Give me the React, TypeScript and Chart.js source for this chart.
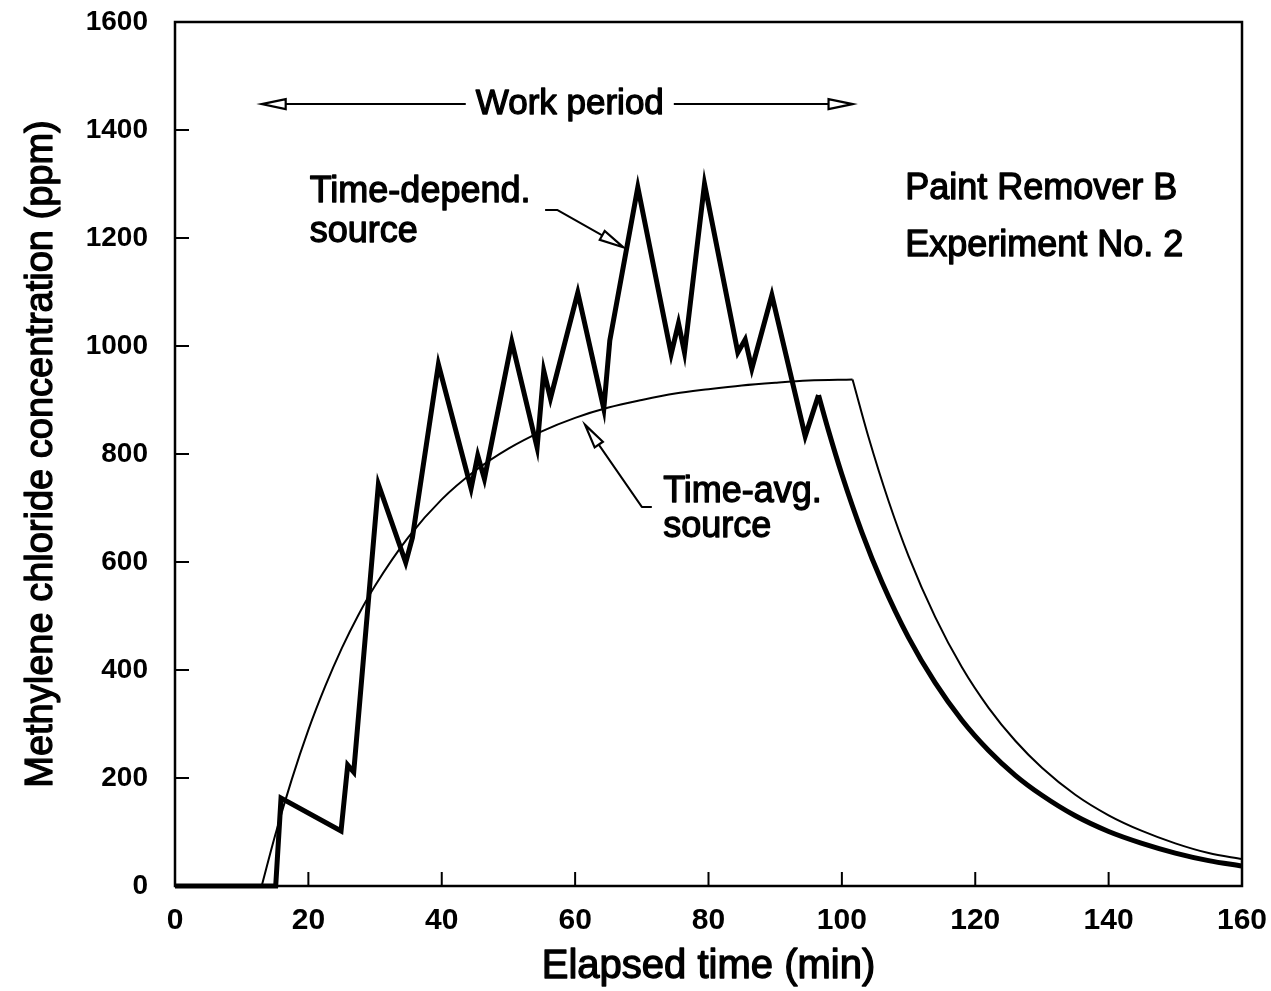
import React, { useEffect, useRef } from "react";
import { Chart, registerables } from "chart.js";

Chart.register(...registerables);

// ---------- data (minutes, ppm) ----------
const timeDependX = [0, 15.1, 15.9, 24.9, 25.9, 26.8, 30.5, 34.6, 35.6, 39.5, 44.4, 45.4, 46.4, 50.5, 54.3, 55.3, 56.3, 60.4, 64.3, 65.2, 69.4, 74.4, 75.5, 76.4, 79.4, 84.4, 85.5, 86.5, 89.5, 94.5, 96.5];
const timeDependY = [0, 0, 163, 102, 224, 211, 744, 599, 645, 966, 736, 797, 754, 1008, 812, 954, 903, 1099, 884, 1010, 1294, 985, 1042, 988, 1300, 988, 1012, 958, 1094, 833, 909];

const timeDependDecayX = [96.5, 98, 100, 103, 106, 110, 114, 118, 122, 126, 130, 135, 140, 145, 150, 155, 160];
const timeDependDecayY = [909, 843, 762, 655, 563, 460, 376, 307, 251, 205, 168, 130, 101, 79, 61, 47, 37];

const timeAvgFlatX = [0, 13];
const timeAvgFlatY = [0, 0];

const timeAvgRiseX = [13, 15, 17.5, 20, 22.5, 25, 27.5, 30, 35, 40, 45, 50, 55, 60, 65, 70, 75, 80, 85, 90, 95, 101.6];
const timeAvgRiseY = [0, 93, 197, 289, 369, 440, 502, 556, 646, 716, 769, 810, 842, 867, 886, 900, 912, 920, 927, 932, 936, 938];

const timeAvgDecayX = [101.6, 104, 107, 110, 114, 118, 122, 126, 130, 135, 140, 145, 150, 155, 160];
const timeAvgDecayY = [938, 831, 713, 611, 498, 405, 330, 269, 219, 169, 131, 102, 79, 61, 50];

const xTicks = [0, 20, 40, 60, 80, 100, 120, 140, 160];
const yTicks = [0, 200, 400, 600, 800, 1000, 1200, 1400, 1600];

const X_TITLE = "Elapsed time (min)";
const Y_TITLE = "Methylene chloride concentration (ppm)";

const FONT = "'Liberation Sans', Arial, Helvetica, sans-serif";

const pts = (xs: number[], ys: number[]) => xs.map((x, i) => ({ x, y: ys[i] }));

function drawText(ctx: CanvasRenderingContext2D, s: string, x: number, y: number, size: number, align: CanvasTextAlign = "left", baseline: CanvasTextBaseline = "alphabetic") {
  ctx.font = `${size}px ${FONT}`;
  ctx.textAlign = align;
  ctx.textBaseline = baseline;
  ctx.fillStyle = "#000";
  ctx.fillText(s, x, y);
  ctx.lineWidth = 1.3;
  ctx.lineJoin = "round";
  ctx.strokeStyle = "#000";
  ctx.strokeText(s, x, y);
}

function arrowHead(ctx: CanvasRenderingContext2D, tx: number, ty: number, fx: number, fy: number, len = 24, half = 5) {
  const dx = tx - fx, dy = ty - fy;
  const d = Math.hypot(dx, dy) || 1;
  const ux = dx / d, uy = dy / d;
  const bx = tx - ux * len, by = ty - uy * len;
  const nx = -uy, ny = ux;
  ctx.beginPath();
  ctx.moveTo(tx, ty);
  ctx.lineTo(bx + nx * half, by + ny * half);
  ctx.lineTo(bx - nx * half, by - ny * half);
  ctx.closePath();
  ctx.fillStyle = "#fff";
  ctx.fill();
  ctx.lineWidth = 2.2;
  ctx.lineJoin = "miter";
  ctx.strokeStyle = "#000";
  ctx.stroke();
}

function polyArrow(ctx: CanvasRenderingContext2D, p: { x: number; y: number }[]) {
  const n = p.length;
  const tip = p[n - 1], prev = p[n - 2];
  const dx = tip.x - prev.x, dy = tip.y - prev.y;
  const d = Math.hypot(dx, dy) || 1;
  const len = 24;
  const bx = tip.x - (dx / d) * len, by = tip.y - (dy / d) * len;
  ctx.beginPath();
  ctx.moveTo(p[0].x, p[0].y);
  for (let i = 1; i < n - 1; i++) ctx.lineTo(p[i].x, p[i].y);
  ctx.lineTo(bx, by);
  ctx.lineWidth = 2;
  ctx.strokeStyle = "#000";
  ctx.stroke();
  arrowHead(ctx, tip.x, tip.y, prev.x, prev.y, len, 5);
}

const framePlugin = {
  id: "frameAndNotes",
  afterDraw(chart: any) {
    const { ctx, chartArea: ca, scales } = chart;
    const px = (v: number) => scales.x.getPixelForValue(v);
    const py = (v: number) => scales.y.getPixelForValue(v);
    ctx.save();
    // frame
    ctx.strokeStyle = "#000";
    ctx.lineWidth = 2.5;
    ctx.strokeRect(ca.left, ca.top, ca.right - ca.left, ca.bottom - ca.top);
    // inward ticks
    ctx.lineWidth = 2;
    ctx.beginPath();
    xTicks.forEach((v) => {
      ctx.moveTo(px(v), ca.bottom);
      ctx.lineTo(px(v), ca.bottom - 14);
    });
    yTicks.forEach((v) => {
      ctx.moveTo(ca.left, py(v));
      ctx.lineTo(ca.left + 14, py(v));
    });
    ctx.stroke();

    // axis titles
    drawText(ctx, X_TITLE, (ca.left + ca.right) / 2, 967, 40, "center", "middle");
    ctx.save();
    ctx.translate(42, (ca.top + ca.bottom) / 2);
    ctx.rotate(-Math.PI / 2);
    drawText(ctx, Y_TITLE, 0, 0, 38, "center", "middle");
    ctx.restore();

    // Work period arrow
    const wy = py(1448);
    const wText = "Work period";
    ctx.font = `35px ${FONT}`;
    const tw = ctx.measureText(wText).width;
    const wcx = px(59.2);
    drawText(ctx, wText, wcx, wy, 35, "center", "middle");
    const lt = px(13), rt = px(101.6);
    ctx.beginPath();
    ctx.moveTo(wcx - tw / 2 - 10, wy);
    ctx.lineTo(lt + 24, wy);
    ctx.moveTo(wcx + tw / 2 + 10, wy);
    ctx.lineTo(rt - 24, wy);
    ctx.lineWidth = 2;
    ctx.strokeStyle = "#000";
    ctx.stroke();
    arrowHead(ctx, lt, wy, lt + 30, wy);
    arrowHead(ctx, rt, wy, rt - 30, wy);

    // Time-dependent source label
    drawText(ctx, "Time-depend.", px(20.2), py(1267), 36);
    drawText(ctx, "source", px(20.2), py(1193), 36);
    polyArrow(ctx, [
      { x: px(55.5), y: py(1252) },
      { x: px(57.3), y: py(1252) },
      { x: px(67.2), y: py(1183) },
    ]);

    // Time-avg source label
    drawText(ctx, "Time-avg.", px(73.2), py(711), 36);
    drawText(ctx, "source", px(73.2), py(647), 36);
    polyArrow(ctx, [
      { x: px(71.5), y: py(702) },
      { x: px(70.0), y: py(702) },
      { x: px(61.5), y: py(854) },
    ]);

    // Experiment label
    drawText(ctx, "Paint Remover B", px(109.5), py(1272), 36);
    drawText(ctx, "Experiment No. 2", px(109.5), py(1167), 36);

    ctx.restore();
  },
};

const zeroPad = (s: any) => {
  s.paddingTop = 0;
  s.paddingBottom = 0;
  s.paddingLeft = 0;
  s.paddingRight = 0;
};

export default function App() {
  const canvasRef = useRef<HTMLCanvasElement | null>(null);

  useEffect(() => {
    const canvas = canvasRef.current;
    if (!canvas) return;
    const thick = { borderColor: "#000", borderWidth: 5, pointRadius: 0, fill: false, clip: false as any, borderJoinStyle: "miter" as const };
    const thin = { borderColor: "#000", borderWidth: 2, pointRadius: 0, fill: false, clip: false as any };
    const chart = new Chart(canvas, {
      type: "line",
      data: {
        datasets: [
          { ...thin, label: "Time-avg. source (pre)", data: pts(timeAvgFlatX, timeAvgFlatY), tension: 0 },
          { ...thin, label: "Time-avg. source", data: pts(timeAvgRiseX, timeAvgRiseY), cubicInterpolationMode: "monotone" },
          { ...thin, label: "Time-avg. source (decay)", data: pts(timeAvgDecayX, timeAvgDecayY), cubicInterpolationMode: "monotone" },
          { ...thick, label: "Time-depend. source", data: pts(timeDependX, timeDependY), tension: 0 },
          { ...thick, label: "Time-depend. source (decay)", data: pts(timeDependDecayX, timeDependDecayY), cubicInterpolationMode: "monotone" },
        ],
      },
      options: {
        responsive: false,
        animation: false,
        events: [],
        layout: { padding: { left: 0, right: 29, top: 22, bottom: 0 } },
        plugins: { legend: { display: false }, tooltip: { enabled: false }, title: { display: false } },
        scales: {
          x: {
            type: "linear",
            min: 0,
            max: 160,
            afterFit: (s: any) => { s.height = 105; zeroPad(s); },
            afterBuildTicks: (s: any) => { s.ticks = xTicks.map((v) => ({ value: v })); },
            grid: { display: false, drawTicks: false },
            border: { display: false },
            ticks: { color: "#000", padding: 17, maxRotation: 0, callback: (v: any) => String(v), font: { family: FONT, size: 30, weight: "bold" } },
          },
          y: {
            type: "linear",
            min: 0,
            max: 1600,
            afterFit: (s: any) => { s.width = 175; zeroPad(s); },
            afterBuildTicks: (s: any) => { s.ticks = yTicks.map((v) => ({ value: v })); },
            grid: { display: false, drawTicks: false },
            border: { display: false },
            ticks: { color: "#000", padding: 27, callback: (v: any) => String(v), font: { family: FONT, size: 28, weight: "bold" } },
          },
        },
      },
      plugins: [framePlugin],
    });
    return () => chart.destroy();
  }, []);

  return (
    <div style={{ position: "fixed", left: 0, top: 0, width: 1271, height: 991, background: "#fff" }}>
      <canvas ref={canvasRef} width={1271} height={991} style={{ display: "block", width: 1271, height: 991 }} />
    </div>
  );
}
